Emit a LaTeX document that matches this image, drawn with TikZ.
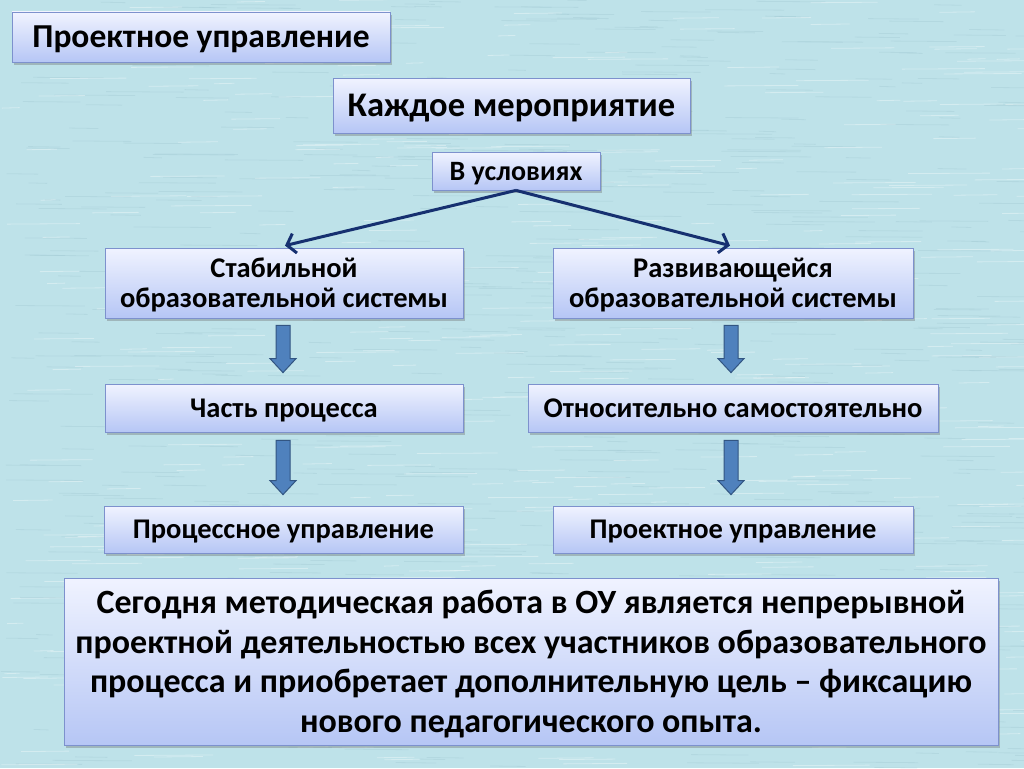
\documentclass[tikz,border=0pt]{standalone}
\usepackage{fontspec}
\setmainfont{Carlito}
\usetikzlibrary{arrows.meta,shadows,calc}
\definecolor{bgc}{RGB}{190,226,233}
\definecolor{bgdark}{RGB}{160,200,210}
\definecolor{boxtop}{RGB}{240,243,255}
\definecolor{boxbot}{RGB}{182,198,245}
\definecolor{boxline}{RGB}{125,145,205}
\definecolor{navy}{RGB}{22,48,112}
\definecolor{bafill}{RGB}{79,129,189}
\definecolor{baline}{RGB}{50,85,130}
\tikzset{
  box/.style={draw=boxline, line width=0.8pt, top color=boxtop, bottom color=boxbot,
    drop shadow={shadow xshift=2pt, shadow yshift=-3pt, opacity=0.35, fill=black!60},
    align=center, inner sep=2pt, text depth=0pt, font=\bfseries},
  conn/.style={draw=navy, line width=3pt, -{Straight Barb[length=8pt,width=20pt]}},
  barrowstyle/.style={fill=bafill, draw=baline, line width=1pt, line join=miter},
  midfont/.style={font=\bfseries\fontsize{28.5}{30}\selectfont},
}
\newcommand\barrow[2]{%
  \path[barrowstyle] let \p1=(#1), \p2=(#2) in
    (\x1-7pt,\y1) -- (\x1+7pt,\y1) -- (\x1+7pt,\y2+14pt) -- (\x1+13pt,\y2+14pt)
    -- (\x1,\y2) -- (\x1-13pt,\y2+14pt) -- (\x1-7pt,\y2+14pt) -- cycle;}
\begin{document}
\begin{tikzpicture}[x=1pt,y=-1pt]
\useasboundingbox (0,0) rectangle (1024,768);
\fill[bgc] (0,0) rectangle (1024,768);
\pgfmathsetseed{11}
\begin{scope}
\clip (0,0) rectangle (1024,768);
\foreach \i in {1,...,700}{
  \pgfmathsetmacro\xx{rnd*1024}
  \pgfmathsetmacro\yy{rnd*768}
  \pgfmathsetmacro\ll{15+rnd*70}
  \draw[bgdark, opacity=0.35, line width=0.8pt] (\xx,\yy) -- ++(\ll,0.5);
}
\foreach \i in {1,...,500}{
  \pgfmathsetmacro\xx{rnd*1024}
  \pgfmathsetmacro\yy{rnd*768}
  \pgfmathsetmacro\ll{15+rnd*70}
  \draw[white, opacity=0.35, line width=0.8pt] (\xx,\yy) -- ++(\ll,-0.5);
}
\end{scope}

\node[box, minimum width=378pt, minimum height=50pt, font=\bfseries\fontsize{33.5}{36}\selectfont] (title) at (201,37) {Проектное управление};
\node[box, minimum width=357pt, minimum height=55pt, font=\bfseries\fontsize{34.5}{36}\selectfont] (each) at (511.5,105.5) {Каждое мероприятие};
\node[box, minimum width=168pt, minimum height=38pt, font=\bfseries\fontsize{28}{30}\selectfont] (cond) at (516,171) {В условиях};
\node[box, minimum width=358pt, minimum height=70pt, midfont] (stab) at (284,283) {Стабильной\\образовательной системы};
\node[box, minimum width=360pt, minimum height=70pt, midfont] (razv) at (733,283) {Развивающейся\\образовательной системы};
\node[box, minimum width=358pt, minimum height=48pt, midfont] (part) at (284,408) {Часть процесса};
\node[box, minimum width=410pt, minimum height=48pt, midfont] (rel) at (733,408) {Относительно самостоятельно};
\node[box, minimum width=359pt, minimum height=47pt, midfont] (proc) at (283.5,529.5) {Процессное управление};
\node[box, minimum width=360pt, minimum height=47pt, midfont] (proj) at (733,529.5) {Проектное управление};
\node[box, minimum width=934pt, minimum height=167pt, font=\bfseries\fontsize{34}{39.5}\selectfont] (bottom) at (531,661.5) {Сегодня методическая работа в ОУ является непрерывной\\проектной деятельностью всех участников образовательного\\процесса и приобретает дополнительную цель – фиксацию\\нового педагогического опыта.};

\draw[conn] (cond.south) -- ($(stab.north)+(1,-2)$);
\draw[conn] (cond.south) -- ($(razv.north)+(-3,-2)$);

\barrow{$(stab.south)+(-1,7)$}{$(part.north)+(-1,-11)$}
\barrow{$(part.south)+(-1,8)$}{$(proc.north)+(-1,-11)$}
\barrow{$(razv.south)+(-2,7)$}{$(rel.north)+(-2,-11)$}
\barrow{$(rel.south)+(-2,8)$}{$(proj.north)+(-2,-11)$}
\end{tikzpicture}
\end{document}
